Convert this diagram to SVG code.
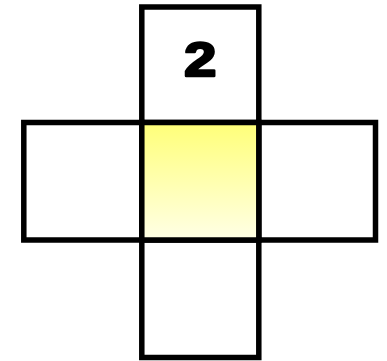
<svg xmlns="http://www.w3.org/2000/svg" width="387" height="361" viewBox="0 0 387 361">
<style>
.cell{fill:#fff;stroke:#000;stroke-width:5.5}
.lbl{font-family:"Liberation Sans",Arial,sans-serif;font-weight:bold;font-size:48px;fill:#000;stroke:#000;stroke-width:2.5;stroke-linejoin:round;text-anchor:middle}
</style>
<defs>
<linearGradient id="g" x1="0" y1="0" x2="0" y2="1">
<stop offset="0" stop-color="#ffff78"/>
<stop offset="1" stop-color="#ffffe6"/>
</linearGradient>
</defs>
<g id="top"><rect class="cell" x="141.8" y="7" width="117" height="115.5"/><text class="lbl" transform="translate(200.3 75.5) scale(1.2 1)" x="0" y="0">2</text></g>
<g id="left"><rect class="cell" x="23.8" y="122.5" width="118" height="117.5"/></g>
<g id="right"><rect class="cell" x="258.8" y="122.5" width="116.7" height="117.5"/></g>
<g id="bottom"><rect class="cell" x="141.8" y="240" width="117" height="117.5"/></g>
<g id="center"><rect class="cell" x="141.8" y="122.5" width="117" height="117.5" style="fill:url(#g)"/></g>
<g id="connectors"/>
</svg>
